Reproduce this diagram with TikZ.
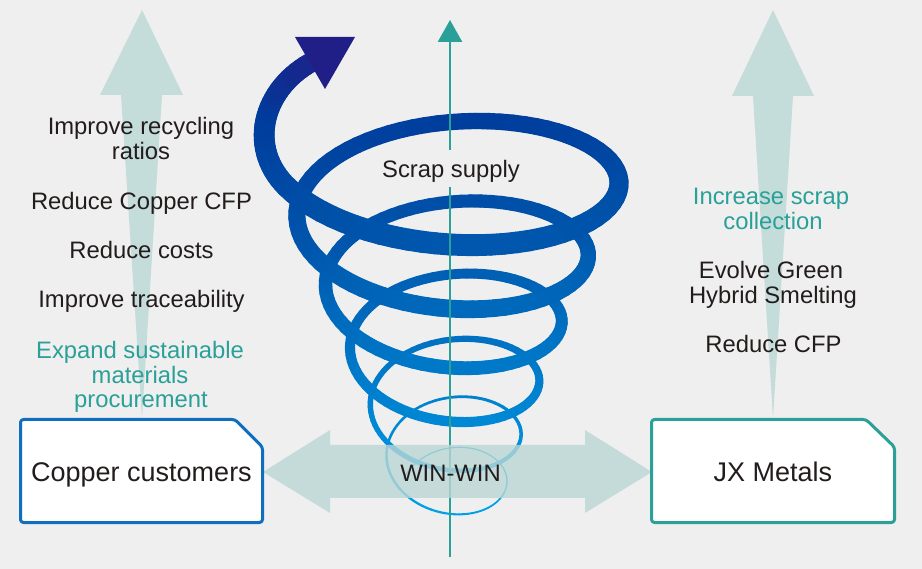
\documentclass[tikz,border=0pt]{standalone}
\usepackage{fontspec}
\setmainfont{Liberation Sans}
\usetikzlibrary{arrows.meta}
\definecolor{bg}{RGB}{239,239,239}
\definecolor{pale}{RGB}{196,220,218}
\definecolor{paleband}{RGB}{186,215,213}
\definecolor{tealc}{RGB}{42,160,152}
\definecolor{txt}{RGB}{35,28,28}
\definecolor{boxblue}{RGB}{16,110,190}
\definecolor{spnavy}{RGB}{32,30,135}
\definecolor{spdeep}{RGB}{0,60,156}
\definecolor{spmid}{RGB}{0,86,172}
\definecolor{spcyan}{RGB}{0,160,233}
\newcommand\spsetcol[1]{%
  \ifdim #1pt<110pt
    \pgfmathsetmacro\cf{max(0,min(100,(#1-45)/0.65))}%
    \colorlet{segc}{spdeep!\cf!spnavy}%
  \else\ifdim #1pt<240pt
    \pgfmathsetmacro\cf{max(0,min(100,(#1-110)/1.3))}%
    \colorlet{segc}{spmid!\cf!spdeep}%
  \else
    \pgfmathsetmacro\cf{max(0,min(100,(#1-240)/2.7))}%
    \colorlet{segc}{spcyan!\cf!spmid}%
  \fi\fi}
\begin{document}
\begin{tikzpicture}[x=1pt,y=-1pt,
  declare function={
    spx(\t)=450+(169+8.2*\t+0.13*\t*\t)*cos(90*\t);
    spy(\t)=181-18.85*\t-0.195*\t*\t+(80+2.5*\t+0.035*\t*\t)*sin(90*\t);
    spwa(\t)=19+0.95*\t+0.006*\t*\t;
    spwb(\t)=max(1.3,max(9.3+1.3*(\t+11),4.1+0.55*(\t+15)));
    spw(\t)=(\t>=-11 ? spwa(\t) : spwb(\t))*(1+0.1*sin(90*\t));
    bx(\s)=(1-\s)^3*286.7+3*(1-\s)^2*\s*247.5+3*(1-\s)*\s^2*262+\s^3*310;
    by(\s)=(1-\s)^3*186.7+3*(1-\s)^2*\s*148.1+3*(1-\s)*\s^2*90.5+\s^3*63;
  },
  lbl/.style={font=\fontsize{23.8}{24.5}\selectfont, text=txt, inner sep=0pt, anchor=base},
  tlbl/.style={lbl, text=tealc},
  boxlbl/.style={lbl, font=\fontsize{27}{30}\selectfont},
  boxframe/.style={line width=3pt, fill=white, rounded corners=3pt, line join=round},
  axisline/.style={draw=tealc, line width=2.6pt}]

\useasboundingbox (0,0) rectangle (922,569);
\fill[bg] (0,0) rectangle (922,569);

% vertical tapered arrows
\fill[pale] (142,10) -- (183,95) -- (162,95) -- (142,418) -- (121,95) -- (100,95) -- cycle;
\fill[pale] (773,10) -- (814,96) -- (793,96) -- (773,418) -- (753,96) -- (732,96) -- cycle;

% left texts
\node[lbl] (l1a) at (141,135) {Improve recycling};
\node[lbl] (l1b) at (141,160) {ratios};
\node[lbl] (l2) at (141.5,210) {Reduce Copper CFP};
\node[lbl] (l3) at (141.5,259) {Reduce costs};
\node[lbl] (l4) at (141.5,308) {Improve traceability};
\node[tlbl] (l5a) at (140,359) {Expand sustainable};
\node[tlbl] (l5b) at (140,383.5) {materials};
\node[tlbl] (l5c) at (141,408) {procurement};

% right texts
\node[tlbl] (r1a) at (771,205) {Increase scrap};
\node[tlbl] (r1b) at (773,229.5) {collection};
\node[lbl] (r2a) at (771,279) {Evolve Green};
\node[lbl] (r2b) at (773,303.5) {Hybrid Smelting};
\node[lbl] (r3) at (773.5,353) {Reduce CFP};

% spiral
\foreach \i in {0,...,467}{
  \pgfmathsetmacro\ta{-21.7+0.05*\i}
  \pgfmathsetmacro\tb{\ta+0.05}
  \pgfmathsetmacro\xa{spx(\ta)}
  \pgfmathsetmacro\ya{spy(\ta)}
  \pgfmathsetmacro\xb{spx(\tb)}
  \pgfmathsetmacro\yb{spy(\tb)}
  \pgfmathsetmacro\w{spw((\ta+\tb)/2)}
  \pgfmathsetmacro\ym{(\ya+\yb)/2}
  \spsetcol{\ym}
  \draw[line width=\w pt, line cap=round, segc] (\xa,\ya) -- (\xb,\yb);
}
% arrow shaft of the spiral
\foreach \j in {0,...,29}{
  \pgfmathsetmacro\sa{\j/30}
  \pgfmathsetmacro\sb{(\j+1)/30}
  \pgfmathsetmacro\xa{bx(\sa)}
  \pgfmathsetmacro\ya{by(\sa)}
  \pgfmathsetmacro\xb{bx(\sb)}
  \pgfmathsetmacro\yb{by(\sb)}
  \pgfmathsetmacro\w{21.4-1.4*(\sa+\sb)/2}
  \pgfmathsetmacro\ym{(\ya+\yb)/2}
  \spsetcol{\ym}
  \draw[line width=\w pt, line cap=round, segc] (\xa,\ya) -- (\xb,\yb);
}
\fill[spnavy] (295,37) -- (355,37) -- (325,89) -- cycle;

% vertical axis
\coordinate (axbot) at (450,557);
\coordinate (axgapB) at (450,187);
\coordinate (axgapT) at (450,150);
\coordinate (axtop) at (450,20);
\draw[axisline] (axbot) -- (axgapB);
\draw[axisline, -{Triangle[width=24pt,length=22pt]}] (axgapT) -- (axtop);
\node[lbl] (scrap) at (451,178) {Scrap supply};

% horizontal double arrow
\fill[paleband, fill opacity=.8] (263,472) -- (330,430) -- (330,445) -- (585,445) -- (585,430) -- (652,472) -- (585,513) -- (585,498) -- (330,498) -- (330,513) -- cycle;
\node[lbl] (win) at (450.5,482) {WIN-WIN};

% boxes
\draw[boxframe, draw=boxblue] (20.5,419.5) -- (235,419.5) -- (262.5,447) -- (262.5,522.5) -- (20.5,522.5) -- cycle;
\node[boxlbl] (cc) at (141.5,482) {Copper customers};
\draw[boxframe, draw=tealc] (651.5,419.5) -- (866,419.5) -- (894.5,447) -- (894.5,522.5) -- (651.5,522.5) -- cycle;
\node[boxlbl] (jx) at (773,482) {JX Metals};
\end{tikzpicture}
\end{document}
